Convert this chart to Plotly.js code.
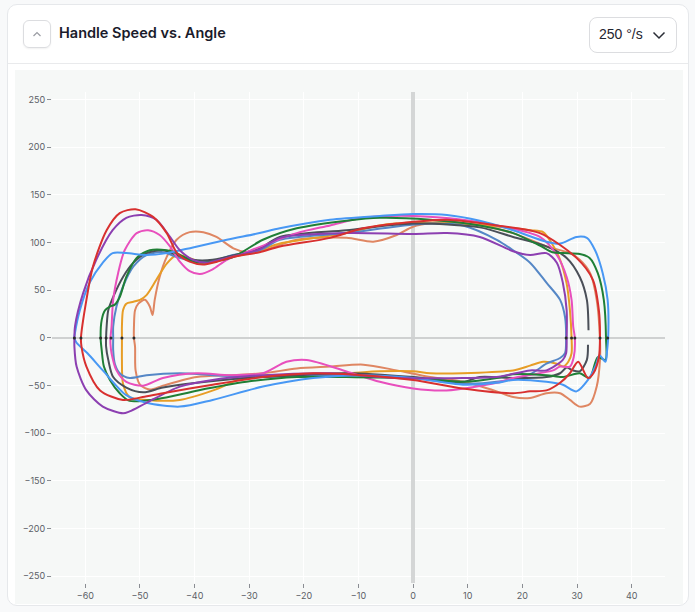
<!DOCTYPE html>
<html>
<head>
<meta charset="utf-8">
<script src="https://cdn.plot.ly/plotly-3.0.1.min.js"></script>
<style>
  body { margin: 0; background: #f8f9fa; font-family: Inter, "Noto Sans", sans-serif; }
  .card { position: absolute; left: 7px; top: 4px; width: 682px; height: 602px; background: #fff;
          border: 1px solid #e6e8eb; border-radius: 10px; box-sizing: border-box; }
  .head { position: absolute; left: 0; top: 0; right: 0; height: 58px; border-bottom: 1px solid #e9eaec; }
  .btn { position: absolute; left: 15px; top: 15px; width: 28px; height: 28px; box-sizing: border-box;
         border: 1px solid #dcdde0; border-radius: 6px; box-shadow: 0 1px 2px rgba(0,0,0,0.06); }
  .btn svg { position: absolute; left: 8px; top: 9px; }
  .title { position: absolute; left: 51px; top: 19px; font-size: 14.5px; font-weight: 600; color: #1a1b2b; }
  .dd { position: absolute; left: 581px; top: 12px; width: 88px; height: 36px; box-sizing: border-box;
        border: 1px solid #dcdde0; border-radius: 8px; }
  .dd span { position: absolute; left: 9px; top: 8px; font-family: "Liberation Sans", Arial, sans-serif;
             font-size: 14px; color: #1f2430; }
  .dd svg { position: absolute; left: 62px; top: 13px; }
  #chart { position: absolute; left: 15px; top: 70px; width: 668px; height: 534px; }
</style>
</head>
<body>
<div class="card">
  <div class="head">
    <div class="btn"><svg width="10" height="8"><polyline points="1.5,6 5,2.5 8.5,6" fill="none" stroke="#9a9ca3" stroke-width="1.2"/></svg></div>
    <div class="title">Handle Speed vs. Angle</div>
    <div class="dd"><span>250 °/s</span><svg width="14" height="9"><polyline points="1.5,1.5 7,7 12.5,1.5" fill="none" stroke="#2a2d36" stroke-width="1.5"/></svg></div>
  </div>
</div>
<div id="chart"></div>
<script>
// each stroke: upper half (left -> right), then lower half (right -> left)
const redX = [-60.8,-59.8,-58.6,-56.1,-53.7,-50.8,-47.6,-45.1,-43.2,-40.9,-38.5,-35.9,-33.0,-28.1,-24.4,-15.2,-9.2,-3.0,6.2,15.3,23.2,29.9,32.9,34.0,34.2,
              34.0,33.0,32.0,30.2,28.7,26.9,24.4,21.4,18.3,9.1,0,-9.2,-18.3,-27.5,-36.7,-45.8,-49.5,-53.1,-57.3,-59.8,-60.7,-60.8];
const redY = [0,40,75,113,131,135,127,110,89,80,77,80,85,90,96,105,115,120,124,118,110,84,61,29,0,
              -20,-37,-42,-25,-37,-47,-55,-56,-58,-53,-44,-39,-37,-41,-49,-58,-62,-65,-55,-30,-9,0];

const purpleX = [-62.0,-61.9,-60.4,-58.0,-55.0,-52.5,-49.7,-47.0,-44.5,-42.7,-40.3,-37.8,-34.1,-28.1,-24.4,-12.2,0,6.2,12.2,18.3,21.4,24.4,26.3,27.4,28.1,28.1,
                 28.0,27.4,24.4,21.4,15.3,9.1,-3.0,-15.2,-27.5,-36.7,-42.7,-48.8,-51.9,-53.1,-56.8,-59.8,-61.6,-62.0,-62.0];
const purpleY = [0,12,47,82,113,126,129,124,106,92,82,79,84,93,105,110,109,110,106,91,87,89,79,58,29,0,
                 -16,-23,-34,-34,-41,-42,-42,-37,-39,-44,-51,-68,-77,-79,-72,-55,-30,-9,0];

const blueX = [-62.0,-61.9,-61.0,-59.2,-56.8,-55.0,-52.5,-48.8,-45.1,-40.3,-34.1,-28.1,-24.4,-15.2,-6.1,0,6.2,12.2,18.3,24.4,26.9,29.9,31.8,33.3,34.7,35.6,35.7,
               35.5,35.2,34.1,33.5,32.0,29.9,27.4,24.4,18.3,15.3,9.1,0,-9.2,-18.3,-27.5,-36.7,-42.7,-48.8,-52.5,-56.8,-59.6,-61.6,-62.0];
const blueY = [0,5,29,58,79,89,89,87,89,95,103,110,115,124,128,130,129,123,113,101,99,106,105,92,68,40,0,
               -13,-25,-18,-28,-44,-56,-49,-46,-44,-47,-49,-42,-39,-42,-51,-65,-72,-68,-60,-34,-16,-5,0];

const greenX = [-57.2,-57.0,-56.4,-55.5,-54.6,-53.7,-52.5,-50.6,-48.2,-45.1,-43.3,-40.3,-38.5,-33.0,-27.5,-21.3,-12.2,-6.1,3.1,12.2,18.3,23.2,25.5,27.4,30.5,32.3,33.8,34.9,35.3,
                35.2,33.8,32.3,30.5,27.4,24.4,18.3,15.3,9.1,0,-12.2,-21.3,-30.5,-39.4,-45.8,-51.9,-53.7,-55.5,-56.6,-57.0,-57.2];
const greenY = [0,19,29,33,35,43,64,84,92,92,89,80,79,85,103,115,123,126,124,118,110,97,90,89,88,84,68,40,0,
                -23,-20,-42,-37,-41,-39,-38,-42,-46,-42,-41,-41,-46,-55,-63,-66,-58,-44,-30,-13,0];

const grayX = [32.0,31.8,30.5,29.2,28.1,26.9,24.4,18.3,12.2,9.1,0,-12.2,-21.3,-30.5,-39.6,-45.8,-49.4,-52.5,-54.9,-55.8,-56.2,-56.2,
               -56.1,-55.8,-54.9,-53.1,-51.2,-48.8,-45.8,-43.3,-40.3,-36.7,-31.2,-28.1,-24.4,-12.2,0,12.2,18.3,24.4,28.1,30.5,31.8,32.1];
const grayY = [-7,-23,-35,-34,-31,-37,-41,-42,-41,-46,-41,-37,-39,-42,-47,-52,-57,-52,-41,-23,-9,0,
               12,29,43,64,79,89,92,87,82,82,89,94,106,113,120,116,106,96,84,64,40,8];

const pinkX = [-55.4,-55.2,-54.9,-54.0,-52.8,-50.6,-48.5,-46.4,-44.5,-42.7,-40.9,-39.0,-36.7,-34.1,-30.5,-21.3,-15.2,-9.2,0,9.1,15.3,23.2,26.3,28.1,29.0,29.3,29.6,
               29.4,28.7,26.9,25.6,23.2,18.3,15.3,6.1,0,-6.1,-12.2,-19.5,-23.2,-27.5,-33.5,-39.6,-45.8,-49.4,-52.5,-54.3,-55.2,-55.4,-55.4];
const pinkY = [0,12,40,68,92,110,113,108,96,80,70,67,72,82,90,110,118,126,128,124,118,106,87,64,40,12,0,
               -20,-30,-30,-34,-37,-42,-47,-55,-53,-46,-35,-23,-25,-37,-39,-37,-42,-50,-46,-34,-16,-6,0];

const steelX = [-54.9,-54.9,-54.3,-53.1,-51.2,-48.8,-45.8,-43.3,-40.3,-37.2,-33.0,-28.1,-24.4,-12.2,-3.0,3.1,9.1,15.3,18.3,21.4,24.4,26.9,27.8,28.0,
                27.8,26.9,24.4,21.4,15.3,9.1,0,-9.2,-18.3,-27.5,-36.7,-42.7,-48.8,-51.9,-53.7,-54.6,-54.9,-54.9];
const steelY = [0,12,33,54,75,87,90,85,81,80,87,92,103,110,117,120,118,103,92,79,58,40,22,0,
                -16,-21,-27,-38,-46,-48,-42,-39,-39,-41,-39,-37,-39,-42,-37,-27,-13,0];

const orangeX = [-53.3,-53.3,-53.1,-52.5,-51.2,-50.0,-48.8,-47.0,-45.1,-43.3,-41.5,-39.0,-36.6,-32.9,-28.1,-24.4,-12.2,-6.1,0,9.1,15.3,21.4,23.8,25.4,26.9,28.1,28.7,29.0,
                 29.0,28.4,27.5,26.3,23.8,21.4,18.3,9.1,3.1,0,-6.1,-12.2,-21.3,-30.5,-36.6,-42.7,-48.8,-51.9,-53.1,-53.3,-53.3,-53.3];
const orangeY = [0,12,29,36,38,40,45,61,78,87,85,80,80,85,92,99,110,118,121,120,117,113,111,99,82,57,29,0,
                 -16,-25,-30,-27,-25,-29,-34,-37,-37,-35,-35,-37,-39,-41,-55,-65,-65,-62,-48,-23,-9,0];

const salmonX = [-51.1,-51.1,-50.9,-50.3,-49.1,-48.2,-47.7,-47.3,-46.4,-45.1,-43.3,-40.9,-38.4,-36.0,-32.9,-30.5,-27.4,-21.3,-12.2,-7.3,-3.0,0.1,6.1,12.2,18.3,24.4,28.7,30.5,32.4,33.6,34.2,
                 34.2,33.6,32.4,30.5,28.7,26.9,24.4,21.4,18.3,15.3,9.2,3.1,-3.0,-9.1,-15.2,-21.3,-27.4,-33.5,-39.6,-45.8,-48.2,-50.0,-50.8,-50.9,-51.1];
const salmonY = [0,12,29,36,40,33,24,40,64,85,103,111,111,106,94,90,92,103,105,101,108,117,122,118,110,96,89,82,68,40,-2,
                 -23,-51,-69,-72,-65,-58,-58,-63,-62,-56,-46,-41,-34,-28,-30,-32,-37,-39,-41,-50,-54,-49,-34,-9,0];

// small dots where strokes turn around on the zero line
const turnX = [-62.0,-60.8,-57.2,-56.2,-55.3,-53.3,-51.1,28.0,29.0,29.6,34.2,35.6];
const turnY = [0,0,0,0,0,0,0,0,0,0,0,0];

const xTicks = [-60,-50,-40,-30,-20,-10,0,10,20,30,40];
const yTicks = [-250,-200,-150,-100,-50,0,50,100,150,200,250];

const strokes = [
  [salmonX, salmonY, '#df8662'],
  [orangeX, orangeY, '#e79d26'],
  [steelX, steelY, '#5587c6'],
  [grayX, grayY, '#4a4f58'],
  [pinkX, pinkY, '#e84fbd'],
  [greenX, greenY, '#1f7f36'],
  [blueX, blueY, '#4898f4'],
  [purpleX, purpleY, '#8c3fb1'],
  [redX, redY, '#d8302f'],
];

let traces = strokes.map(s => ({
  x: s[0], y: s[1], type: 'scatter', mode: 'lines',
  line: {color: s[2], width: 2, shape: 'spline', smoothing: 0.8},
  hoverinfo: 'skip'
}));
traces.push({x: turnX, y: turnY, type: 'scatter', mode: 'markers',
  marker: {color: '#2b2b2b', size: 3}, hoverinfo: 'skip'});

const layout = {
  width: 668, height: 534,
  margin: {l: 37, r: 18, t: 22, b: 21},
  paper_bgcolor: '#f6f8f7', plot_bgcolor: '#f6f8f7',
  showlegend: false,
  font: {family: 'Inter, "Noto Sans", sans-serif', size: 9, color: '#5b5e66'},
  xaxis: {range: [-66.1, 46.1], tickvals: xTicks, ticks: 'outside', ticklen: 4, tickcolor: '#8a8d93',
          showgrid: true, gridcolor: '#ffffff', gridwidth: 1,
          zeroline: true, zerolinecolor: '#d4d6d6', zerolinewidth: 4, showline: false},
  yaxis: {range: [-257, 258], tickvals: yTicks, ticks: 'outside', ticklen: 4, tickcolor: '#8a8d93',
          showgrid: true, gridcolor: '#ffffff', gridwidth: 1,
          zeroline: true, zerolinecolor: '#cfd1d1', zerolinewidth: 1.5, showline: false}
};

Plotly.newPlot('chart', traces, layout, {displayModeBar: false, staticPlot: true});
</script>
</body>
</html>
